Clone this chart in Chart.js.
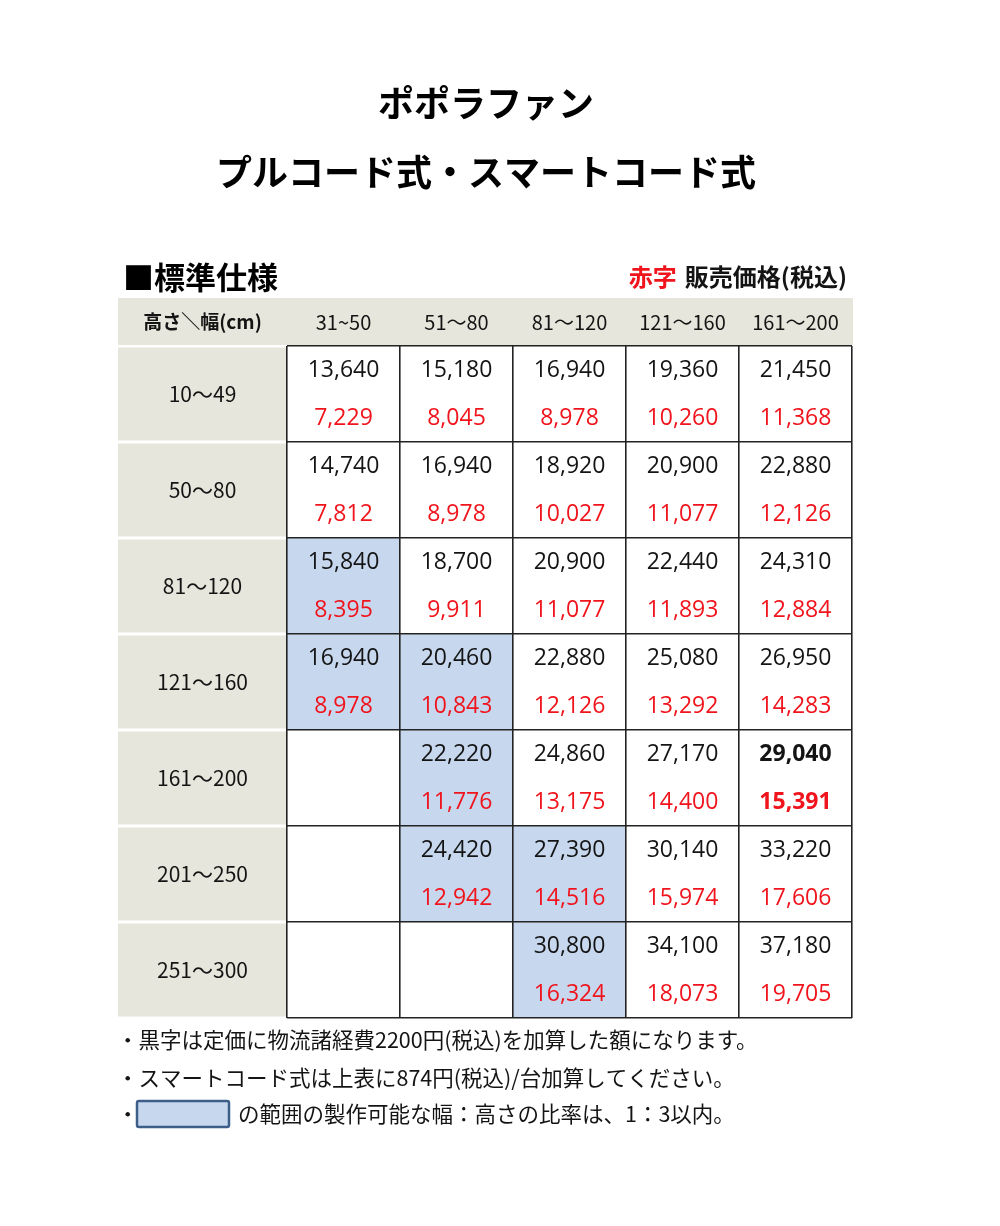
<!DOCTYPE html>
<html>
<head>
<meta charset="utf-8">
<script src="https://cdn.jsdelivr.net/npm/chart.js@4/dist/chart.umd.min.js"></script>
<style>
html,body{margin:0;padding:0;background:#fff;}
#wrap{width:1000px;height:1226px;}
</style>
</head>
<body>
<div id="wrap"><canvas id="c" width="1000" height="1226"></canvas></div>
<script>
// ---- data ----
const titleLines = ['ポポラファン', 'プルコード式・スマートコード式'];
const sectionLabel = '■標準仕様';
const legendRed = '赤字';
const legendText = '販売価格(税込)';
const cornerLabel = '高さ＼幅(cm)';
const widthLabels = ['31~50', '51～80', '81～120', '121～160', '161～200'];
const heightLabels = ['10～49', '50～80', '81～120', '121～160', '161～200', '201～250', '251～300'];
// black figures (list price incl. logistics), one array per height row
const listPrices = [
  [13640, 15180, 16940, 19360, 21450],
  [14740, 16940, 18920, 20900, 22880],
  [15840, 18700, 20900, 22440, 24310],
  [16940, 20460, 22880, 25080, 26950],
  [null, 22220, 24860, 27170, 29040],
  [null, 24420, 27390, 30140, 33220],
  [null, null, 30800, 34100, 37180]
];
// red figures (sale price incl. tax)
const salePrices = [
  [7229, 8045, 8978, 10260, 11368],
  [7812, 8978, 10027, 11077, 12126],
  [8395, 9911, 11077, 11893, 12884],
  [8978, 10843, 12126, 13292, 14283],
  [null, 11776, 13175, 14400, 15391],
  [null, 12942, 14516, 15974, 17606],
  [null, null, 16324, 18073, 19705]
];
// cells within the 1:3 width:height ratio range (blue)
const ratioOk = [
  [false, false, false, false, false],
  [false, false, false, false, false],
  [true, false, false, false, false],
  [true, true, false, false, false],
  [false, true, false, false, false],
  [false, true, true, false, false],
  [false, false, true, false, false]
];
const boldCell = { row: '161～200', col: '161～200' };
const notes = [
  '・黒字は定価に物流諸経費2200円(税込)を加算した額になります。',
  '・スマートコード式は上表に874円(税込)/台加算してください。',
  '・',
  'の範囲の製作可能な幅：高さの比率は、1：3以内。'
];

// ---- styles ----
const BEIGE = '#e7e6dc';
const BLUE = '#c6d7ee';
const RED = '#f0141c';
const INK = '#141414';
const JP = '"Noto Sans CJK JP", "Noto Sans", sans-serif';
const NUM = '"Open Sans", "Noto Sans", sans-serif';

const datasets = heightLabels.map((h, r) => ({
  label: h,
  data: widthLabels.map((w, c) => [r, r + 1]),
  backgroundColor: widthLabels.map((w, c) => ratioOk[r][c] ? BLUE : '#ffffff'),
  borderWidth: 0,
  barPercentage: 1,
  categoryPercentage: 1,
  grouped: false
}));

const tablePlugin = {
  id: 'tableText',
  beforeDraw(chart) {
    const ctx = chart.ctx;
    const ca = chart.chartArea;
    const ys = chart.scales.y;
    const left = 118;
    ctx.save();
    ctx.fillStyle = '#fff';
    ctx.fillRect(0, 0, chart.width, chart.height);
    // header band
    ctx.fillStyle = BEIGE;
    ctx.fillRect(left, 298, ca.right - left + 1, ca.top - 298 - 1);
    // row label cells
    heightLabels.forEach((h, r) => {
      const t = ys.getPixelForValue(r);
      const b = ys.getPixelForValue(r + 1);
      ctx.fillStyle = BEIGE;
      ctx.fillRect(left, t + 1.5, ca.left - left, b - t - 3);
    });
    ctx.restore();
  },
  afterDraw(chart) {
    const ctx = chart.ctx;
    const ca = chart.chartArea;
    const xs = chart.scales.x;
    const ys = chart.scales.y;
    ctx.save();
    ctx.textBaseline = 'middle';
    // title
    ctx.fillStyle = '#000';
    ctx.textAlign = 'center';
    ctx.font = 'bold 36px ' + JP;
    ctx.fillText(titleLines[0], 486, 103);
    ctx.fillText(titleLines[1], 486, 172);
    // section label + legend
    ctx.textAlign = 'left';
    ctx.font = 'bold 31px ' + JP;
    ctx.fillText(sectionLabel, 123, 277);
    ctx.font = 'bold 24px ' + JP;
    ctx.textAlign = 'right';
    ctx.fillStyle = INK;
    ctx.fillText(legendText, 847, 277);
    const lw = ctx.measureText(legendText).width;
    ctx.fillStyle = RED;
    ctx.fillText(legendRed, 847 - lw - 8, 277);
    // header row
    const hy = (298 + ca.top) / 2;
    ctx.fillStyle = INK;
    ctx.textAlign = 'center';
    ctx.font = 'bold 19px ' + JP;
    ctx.fillText(cornerLabel, (118 + ca.left) / 2, hy);
    ctx.font = '20px ' + JP;
    widthLabels.forEach((w, c) => {
      ctx.fillText(w, xs.getPixelForValue(c), hy);
    });
    // row labels
    ctx.font = '21px ' + JP;
    heightLabels.forEach((h, r) => {
      ctx.fillText(h, (118 + ca.left) / 2, ys.getPixelForValue(r + 0.5));
    });
    // cell values
    chart.data.datasets.forEach((ds, r) => {
      const meta = chart.getDatasetMeta(r);
      meta.data.forEach((el, c) => {
        const p = el.getProps(['x', 'y', 'base'], true);
        const cy = (p.y + p.base) / 2;
        const a = listPrices[r][c];
        const s = salePrices[r][c];
        const bold = heightLabels[r] === boldCell.row && widthLabels[c] === boldCell.col;
        ctx.font = (bold ? 'bold ' : '') + '23px ' + NUM;
        if (a != null) {
          ctx.fillStyle = INK;
          ctx.fillText(a.toLocaleString('en-US'), p.x, cy - 24);
        }
        if (s != null) {
          ctx.fillStyle = RED;
          ctx.fillText(s.toLocaleString('en-US'), p.x, cy + 24);
        }
      });
    });
    // notes
    ctx.textAlign = 'left';
    ctx.fillStyle = INK;
    ctx.font = '21.5px ' + JP;
    ctx.fillText(notes[0], 117, 1040);
    ctx.fillText(notes[1], 117, 1078);
    ctx.fillText(notes[2], 117, 1114);
    // sample blue box
    const bx = 137, by = 1101, bw = 92, bh = 26;
    ctx.fillStyle = BLUE;
    ctx.strokeStyle = '#3c5e88';
    ctx.lineWidth = 2.5;
    ctx.beginPath();
    if (ctx.roundRect) ctx.roundRect(bx, by, bw, bh, 2); else ctx.rect(bx, by, bw, bh);
    ctx.fill();
    ctx.stroke();
    ctx.fillStyle = INK;
    ctx.fillText(notes[3], 238, 1114);
    ctx.restore();
  }
};

new Chart(document.getElementById('c'), {
  type: 'bar',
  data: { labels: widthLabels, datasets },
  options: {
    responsive: false,
    animation: false,
    events: [],
    layout: { padding: { left: 287, right: 148, top: 346, bottom: 208 } },
    plugins: { legend: { display: false }, tooltip: { enabled: false }, title: { display: false } },
    scales: {
      x: {
        type: 'category',
        offset: true,
        z: 1,
        grid: { offset: true, color: '#222', lineWidth: 1.6, drawTicks: false, z: 1 },
        border: { display: false },
        ticks: { display: false }
      },
      y: {
        type: 'linear',
        min: 0,
        max: heightLabels.length,
        reverse: true,
        z: 1,
        grid: { color: '#222', lineWidth: 1.6, drawTicks: false, z: 1 },
        border: { display: false },
        ticks: { display: false, stepSize: 1 }
      }
    }
  },
  plugins: [tablePlugin]
});
</script>
</body>
</html>
